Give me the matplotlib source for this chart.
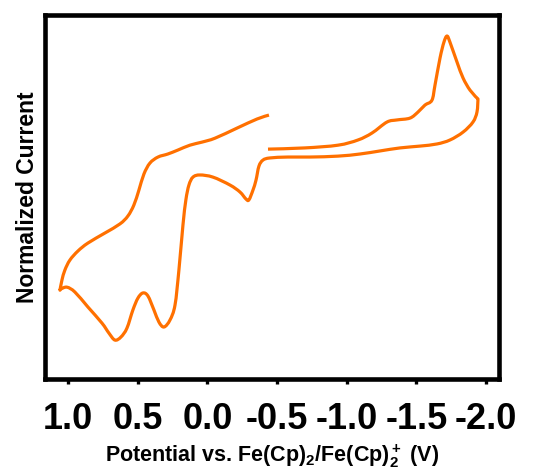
import matplotlib
matplotlib.use("Agg")
import matplotlib.pyplot as plt
from matplotlib.path import Path
from matplotlib.patches import PathPatch
import numpy as np

# Cyclic voltammogram, one continuous sweep (potential in V vs Fc/Fc+, normalized current)
potential = [
    -0.435, -0.700, -0.937, -1.080, -1.181, -1.288, -1.360, -1.453, -1.511, -1.561,
    -1.611, -1.633, -1.669, -1.697, -1.719, -1.740, -1.791, -1.834, -1.884, -1.941,
    -1.934, -1.905, -1.834, -1.740, -1.647, -1.525, -1.382, -1.238, -1.095, -0.937,
    -0.736, -0.578, -0.449, -0.399, -0.370, -0.349, -0.327, -0.298, -0.277, -0.234,
    -0.162, -0.040, 0.053, 0.103, 0.132, 0.154, 0.175, 0.204, 0.232, 0.268,
    0.311, 0.347, 0.383, 0.426, 0.462, 0.498, 0.534, 0.577, 0.620, 0.663,
    0.706, 0.756, 0.857, 0.950, 1.007, 1.050, 1.057, 1.043, 1.022, 0.986,
    0.928, 0.857, 0.735, 0.627, 0.570, 0.527, 0.491, 0.455, 0.412, 0.354,
    0.283, 0.211, 0.125, 0.039, -0.055, -0.212, -0.356, -0.442,
]
current = [
    0.628, 0.632, 0.641, 0.658, 0.681, 0.717, 0.724, 0.730, 0.750, 0.773,
    0.789, 0.839, 0.928, 0.980, 1.000, 0.980, 0.914, 0.862, 0.822, 0.793,
    0.750, 0.717, 0.684, 0.658, 0.645, 0.638, 0.632, 0.622, 0.612, 0.605,
    0.602, 0.602, 0.599, 0.592, 0.572, 0.526, 0.493, 0.461, 0.464, 0.487,
    0.510, 0.536, 0.543, 0.536, 0.510, 0.461, 0.378, 0.230, 0.115, 0.066,
    0.043, 0.059, 0.099, 0.145, 0.155, 0.138, 0.099, 0.039, 0.010, 0.000,
    0.023, 0.056, 0.109, 0.158, 0.174, 0.168, 0.164, 0.197, 0.230, 0.263,
    0.293, 0.319, 0.352, 0.382, 0.408, 0.444, 0.493, 0.546, 0.582, 0.602,
    0.612, 0.625, 0.641, 0.651, 0.664, 0.697, 0.727, 0.740,
]
# sweep reversal points, drawn as sharp corners
vertex_points = [19, 66]

xticks = [1.0, 0.5, 0.0, -0.5, -1.0, -1.5, -2.0]
xtick_labels = ["1.0", "0.5", "0.0", "-0.5", "-1.0", "-1.5", "-2.0"]

plt.rcParams["font.family"] = ["Liberation Sans", "DejaVu Sans"]
plt.rcParams["font.weight"] = "bold"
plt.rcParams["mathtext.fontset"] = "custom"
plt.rcParams["mathtext.rm"] = "Liberation Sans:bold"
plt.rcParams["mathtext.it"] = "Liberation Sans:bold"
plt.rcParams["mathtext.bf"] = "Liberation Sans:bold"


def smooth_path(x, y, corners=()):
    """Cubic Bezier path passing through every (x, y) point (Catmull-Rom tangents)."""
    p = np.column_stack([x, y]).astype(float)
    n = len(p)
    tang = np.zeros_like(p)
    for i in range(n):
        if i in corners:
            continue
        a = p[max(i - 1, 0)]
        b = p[min(i + 1, n - 1)]
        tang[i] = (b - a) / 6.0
    verts = [p[0]]
    codes = [Path.MOVETO]
    for i in range(n - 1):
        verts += [p[i] + tang[i], p[i + 1] - tang[i + 1], p[i + 1]]
        codes += [Path.CURVE4] * 3
    return Path(verts, codes)


fig = plt.figure(figsize=(5.35, 4.70), dpi=100)
ax = fig.add_axes([0.085, 0.1936, 0.848, 0.7744])

ax.add_patch(PathPatch(smooth_path(potential, current, vertex_points),
                       fill=False, edgecolor="#FF7000", lw=2.3,
                       joinstyle="round", capstyle="butt"))

ax.set_xlim(1.161, -2.093)
ax.set_ylim(-0.128, 1.069)

for s in ax.spines.values():
    s.set_linewidth(3.3)
    s.set_color("black")

ax.set_xticks(xticks)
ax.set_xticklabels(xtick_labels, fontsize=26, fontweight="bold")
ax.tick_params(axis="x", direction="out", length=3.5, width=2.4, pad=13,
               top=False, color="black")
ax.set_yticks([])

ax.set_xlabel(r"Potential vs. Fe(Cp)$_2$/Fe(Cp)$_2^+$ (V)",
              fontsize=15.5, fontweight="bold", labelpad=4)
ax.set_ylabel("Normalized Current", fontsize=16.5, fontweight="bold", labelpad=5)

fig.savefig("out.png", dpi=100)
